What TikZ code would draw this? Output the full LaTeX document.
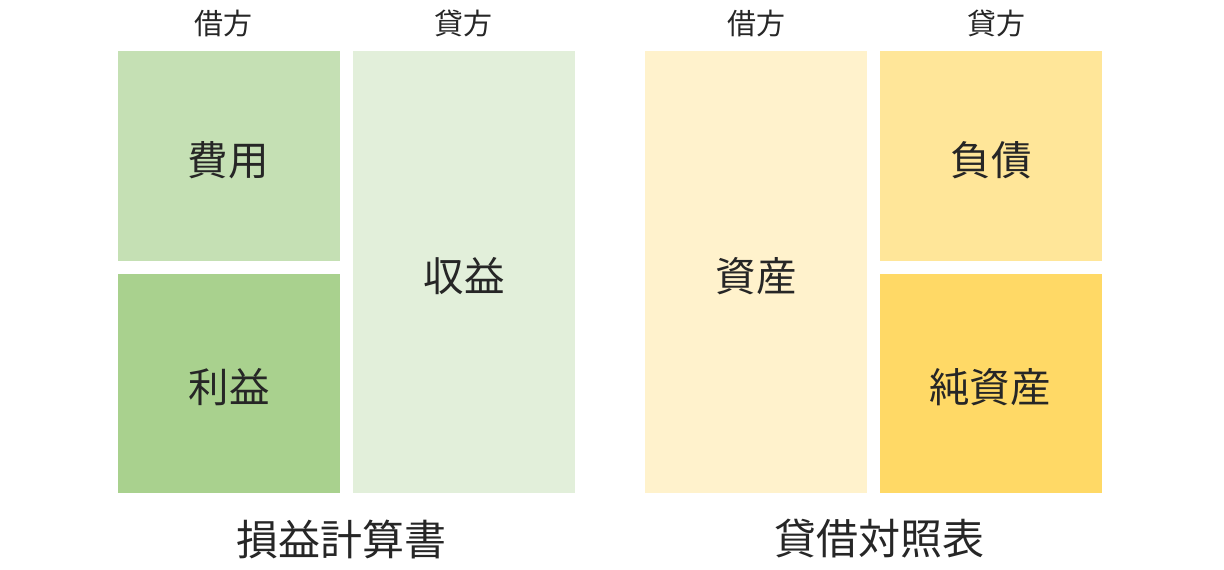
\documentclass[tikz,border=0pt]{standalone}
\usepackage{fontspec}
\newfontfamily\jpfont{Noto Sans CJK JP}
\definecolor{gA}{HTML}{C5E0B4}
\definecolor{gB}{HTML}{A9D18E}
\definecolor{gC}{HTML}{E2EFDA}
\definecolor{yA}{HTML}{FFF2CC}
\definecolor{yB}{HTML}{FFE699}
\definecolor{yC}{HTML}{FFD966}
\definecolor{txt}{HTML}{262626}
\begin{document}
\begin{tikzpicture}[x=1pt,y=-1pt,
  blk/.style={inner sep=0pt,outer sep=0pt,text=txt,font=\jpfont\fontsize{40.5}{42}\selectfont},
  hdr/.style={inner sep=0pt,text=txt,font=\jpfont\fontsize{29}{30}\selectfont},
  ttl/.style={inner sep=0pt,text=txt,font=\jpfont\fontsize{42}{44}\selectfont}]
\useasboundingbox (0,0) rectangle (1224,570);
\fill[gA] (118,51) rectangle (340,260.5);
\fill[gB] (118,274) rectangle (340,492.5);
\fill[gC] (353,51) rectangle (575,492.5);
\fill[yA] (645,51) rectangle (867,492.5);
\fill[yB] (880,51) rectangle (1102,260.5);
\fill[yC] (880,274) rectangle (1102,492.5);
\node[blk] (hiyo) at (228,160) {費用};
\node[blk] (rieki) at (229,387) {利益};
\node[blk] (shueki) at (464,276) {収益};
\node[blk] (shisan) at (756,276) {資産};
\node[blk] (fusai) at (991,160) {負債};
\node[blk] (junshisan) at (990,387) {純資産};
\node[hdr] (h1) at (223,23) {借方};
\node[hdr] (h2) at (463,23) {貸方};
\node[hdr] (h3) at (756,23) {借方};
\node[hdr] (h4) at (996,23) {貸方};
\node[ttl] (t1) at (341,539) {損益計算書};
\node[ttl] (t2) at (879,539) {貸借対照表};
\end{tikzpicture}
\end{document}
